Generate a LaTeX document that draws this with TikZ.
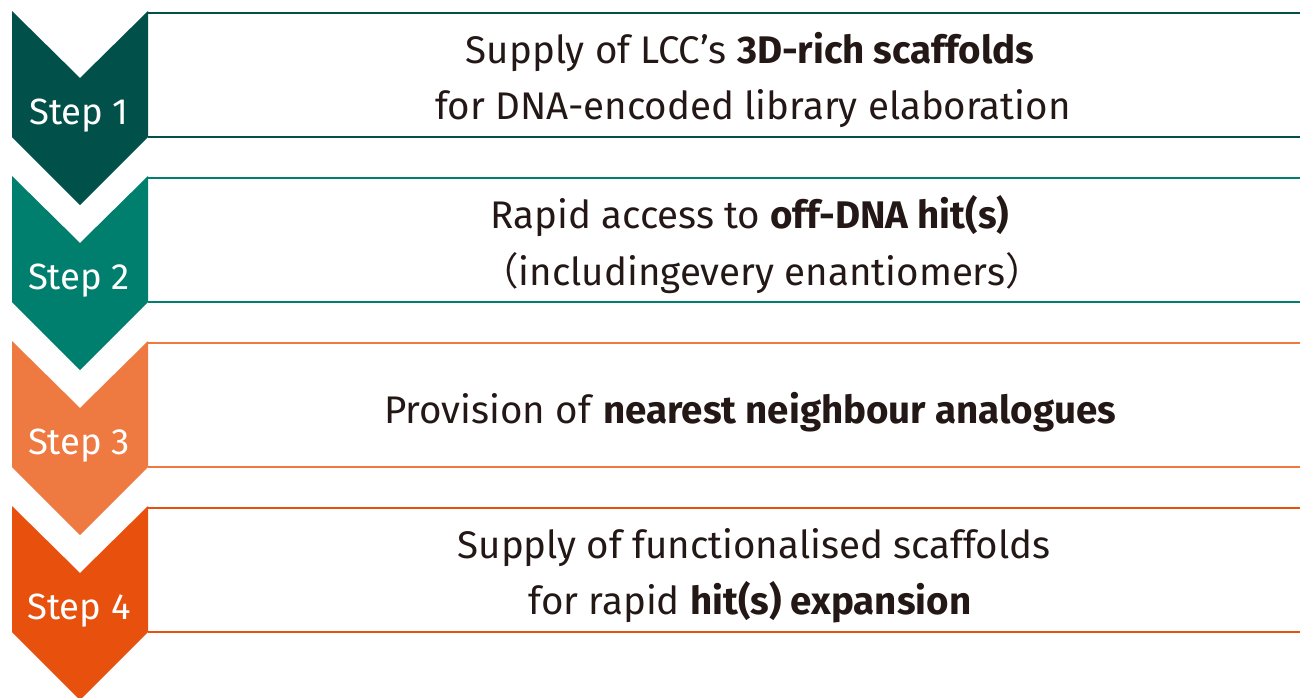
\documentclass[tikz,border=0pt]{standalone}
\usepackage{fontspec}
\setmainfont{Fira Sans}
\newfontfamily\cjk{Noto Sans CJK JP}
\definecolor{cA}{HTML}{02504A}
\definecolor{cB}{HTML}{007F6E}
\definecolor{cC}{HTML}{EE7941}
\definecolor{cD}{HTML}{E8500E}
\definecolor{txt}{HTML}{231815}
\tikzset{
  box/.style={rectangle, anchor=north west, minimum width=1152pt, minimum height=124pt, inner sep=0pt},
  rule/.style={draw=#1, line width=2pt},
  steplabel/.style={text=white, font=\fontsize{36.5}{42}\selectfont, inner sep=0pt},
  maintext/.style={text=txt, font=\fontsize{38.5}{44}\selectfont, inner sep=0pt, anchor=base},
}
\newcommand{\chev}[2]{%
  \fill[#1] (12,#2) -- (80,#2+67) -- (148,#2) -- (148,#2+126) -- (80,#2+194) -- (12,#2+126) -- cycle;}
\newcommand{\openbox}[3]{%
  \node[box] (#1) at (148,#3) {};
  \draw[rule=#2] (#1.north west) -- (#1.north east);
  \draw[rule=#2] (#1.south west) -- (#1.south east);}
\begin{document}
\begin{tikzpicture}[x=1pt,y=-1pt]
\useasboundingbox (0,0) rectangle (1302,697);
% boxes
\openbox{b1}{cA}{13}
\openbox{b2}{cB}{178}
\openbox{b3}{cC}{343}
\openbox{b4}{cD}{508}
% chevrons
\chev{cA}{11}
\chev{cB}{176}
\chev{cC}{341}
\chev{cD}{506}
% step labels
\node[steplabel] (s1) at (79,116) {Step 1};
\node[steplabel] (s2) at (79,281) {Step 2};
\node[steplabel] (s3) at (79,446) {Step 3};
\node[steplabel] (s4) at (79,611) {Step 4};
% texts
\node[maintext] (t1a) at (750,63) {Supply of LCC’s \textbf{3D-rich scaffolds}};
\node[maintext] (t1b) at (753,119) {for DNA-encoded library elaboration};
\node[maintext] (t2a) at (750,228) {Rapid access to \textbf{off-DNA hit(s)}};
\node[maintext] (t2b) at (762,285) {{\cjk （}includingevery enantiomers{\cjk ）}};
\node[maintext] (t3) at (750,423) {Provision of \textbf{nearest neighbour analogues}};
\node[maintext] (t4a) at (754,558) {Supply of functionalised scaffolds};
\node[maintext] (t4b) at (750,614) {for rapid \textbf{hit(s) expansion}};
\end{tikzpicture}
\end{document}
